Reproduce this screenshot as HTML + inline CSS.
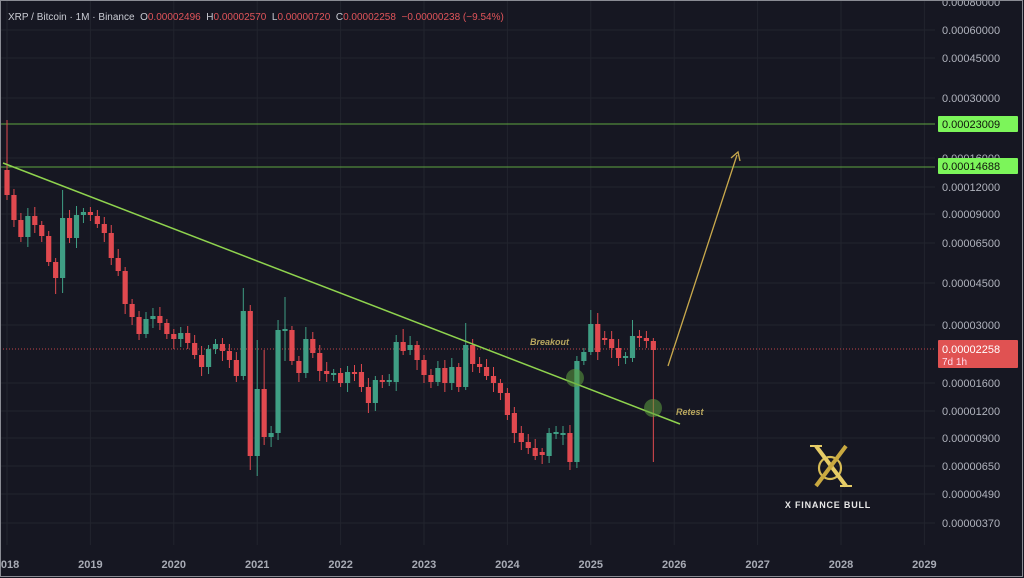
<!DOCTYPE html>
<html><head><meta charset="utf-8"><style>
html,body{margin:0;padding:0;background:#161722;}
body{width:1024px;height:578px;overflow:hidden;font-family:"Liberation Sans",sans-serif;}
</style></head><body>
<svg id="c" width="1024" height="578" xmlns="http://www.w3.org/2000/svg" style="display:block">
<rect width="1024" height="578" fill="#161722"/>
<g id="grid" stroke="#22242e" stroke-width="1"></g>
<line x1="0" y1="124" x2="935" y2="124" stroke="#5fa640" stroke-width="1.1"/>
<line x1="0" y1="167" x2="935" y2="167" stroke="#5fa640" stroke-width="1.1"/>
<line x1="0" y1="349" x2="935" y2="349" stroke="#c0444a" stroke-width="1" stroke-dasharray="1,2"/>
<g id="candles"></g>
<line x1="3" y1="163" x2="680" y2="424" stroke="#8fd34e" stroke-width="1.5"/>
<circle cx="575" cy="378" r="9" fill="#5fa040" fill-opacity="0.55"/>
<circle cx="653" cy="408" r="9" fill="#5fa040" fill-opacity="0.55"/>
<line x1="668" y1="366" x2="737" y2="155" stroke="#c9a94c" stroke-width="1.3"/>
<polyline points="731,158 738,152 740,161" fill="none" stroke="#c9a94c" stroke-width="1.3"/>
<text x="530" y="345" font-size="9" font-style="italic" font-weight="bold" fill="#b9a75e">Breakout</text>
<text x="676" y="415" font-size="9" font-style="italic" font-weight="bold" fill="#b9a75e">Retest</text>
<text x="8" y="20" font-size="10" fill="#c9cbd3" xml:space="preserve">XRP / Bitcoin · 1M · Binance  O<tspan fill="#e0545a">0.00002496</tspan>  H<tspan fill="#e0545a">0.00002570</tspan>  L<tspan fill="#e0545a">0.00000720</tspan>  C<tspan fill="#e0545a">0.00002258  −0.00000238 (−9.54%)</tspan></text>
<g id="yaxis" font-size="11" fill="#b0b3bd"></g>
<rect x="938" y="116" width="80" height="16" fill="#7cf55a" rx="1"/>
<text x="942" y="128" font-size="11" fill="#10140c">0.00023009</text>
<rect x="938" y="158" width="80" height="16" fill="#7cf55a" rx="1"/>
<text x="942" y="170" font-size="11" fill="#10140c">0.00014688</text>
<rect x="938" y="340" width="80" height="28" fill="#e05252" rx="1"/>
<text x="942" y="353" font-size="11" fill="#fff">0.00002258</text>
<text x="942" y="365" font-size="10" fill="#fde">7d 1h</text>
<g id="xaxis" font-size="11" fill="#a8abb5" font-weight="bold"></g>
<g transform="translate(830,466)">
<circle cx="0" cy="2" r="11" fill="none" stroke="#d8bd55" stroke-width="2.2"/>
<line x1="-14" y1="-20" x2="16" y2="20" stroke="#e6cc66" stroke-width="4"/>
<line x1="16" y1="-20" x2="-14" y2="20" stroke="#c9a940" stroke-width="4"/>
<line x1="-20" y1="-20" x2="-8" y2="-20" stroke="#e6cc66" stroke-width="2"/>
<line x1="10" y1="20" x2="22" y2="20" stroke="#e6cc66" stroke-width="2"/>
</g>
<text x="828" y="508" font-size="9" font-weight="bold" fill="#e8e8e8" text-anchor="middle" letter-spacing="0.8">X FINANCE BULL</text>
<rect x="0.5" y="0.5" width="1022" height="576" fill="none" stroke="#8a8c94" stroke-width="1"/>
</svg>
<script>
var NS="http://www.w3.org/2000/svg";
function el(p,t,a,txt){var e=document.createElementNS(NS,t);for(var k in a)e.setAttribute(k,a[k]);if(txt!=null)e.textContent=txt;p.appendChild(e);return e;}
var grid=document.getElementById('grid');
var ylabels=[["0.00060000",30],["0.00045000",58],["0.00030000",98],["0.00016000",158],["0.00012000",187],["0.00009000",214],["0.00006500",243],["0.00004500",283],["0.00003000",325],["0.00001600",383],["0.00001200",411],["0.00000900",438],["0.00000650",466],["0.00000490",494],["0.00000370",523]];
var ya=document.getElementById('yaxis');
ylabels.forEach(function(l){el(grid,'line',{x1:0,y1:l[1],x2:935,y2:l[1]});el(ya,'text',{x:942,y:l[1]+4},l[0]);});
el(ya,'text',{x:942,y:6},"0.00080000");
var xa=document.getElementById('xaxis');
for(var y=2018;y<=2029;y++){var x=7+83.4*(y-2018);el(grid,'line',{x1:x,y1:0,x2:x,y2:545});el(xa,'text',{x:x,y:568,'text-anchor':'middle'},String(y));}
var d=[[170,195],[195,220],[220,237],[237,216],[216,225],[225,236],[236,262],[262,278],[278,218],[218,238],[238,215],[215,212],[212,215],[216,224],[224,233],[233,258],[258,271],[271,304],[304,317],[317,334],[334,319],[319,316],[316,323],[323,334],[334,339],[339,333],[333,343],[343,355],[355,367],[367,349],[349,344],[344,351],[351,360],[360,376],[376,311],[311,456],[456,389],[389,437],[437,433],[433,330],[330,329],[330,361],[361,373],[373,339],[339,353],[353,371],[371,374],[374,373],[373,383],[383,372],[372,373],[372,387],[387,403],[403,380],[380,382],[382,380],[382,342],[342,351],[350,345],[345,360],[360,375],[375,382],[382,368],[368,383],[383,367],[367,387],[387,345],[345,364],[364,367],[367,376],[376,383],[383,393],[393,415],[413,433],[433,442],[442,448],[448,456],[452,455],[456,433],[433,432],[434,433],[433,462],[462,361],[361,352],[352,324],[324,352],[338,339],[339,348],[348,358],[357,356],[358,336],[336,338],[338,341],[341,350]];
var wk={1:[120,200],8:[258,294],9:[190,293],35:[288,380],36:[305,470],37:[340,476],38:[350,445],40:[320,440],41:[297,361],44:[327,378],58:[329,355],67:[323,390],83:[356,468],85:[310,355],86:[313,360],91:[320,362],94:[338,462]};
var cg=document.getElementById('candles');
d.forEach(function(c,i){var k=i+1;var x=7+6.95*i;var o=c[0],cl=c[1];var g=cl<=o;var col=g?"#3f9e84":"#e0494f";
var top=Math.min(o,cl),bot=Math.max(o,cl);if(bot-top<2)bot=top+2;
var h=top-4-(k*7%6),l=bot+4+(k*5%7);if(wk[k]){h=wk[k][0];l=wk[k][1];}
el(cg,'line',{x1:x,y1:h,x2:x,y2:l,stroke:col,'stroke-width':1});
el(cg,'rect',{x:x-2.6,y:top,width:5.2,height:bot-top,fill:col});});
</script>
</body></html>
